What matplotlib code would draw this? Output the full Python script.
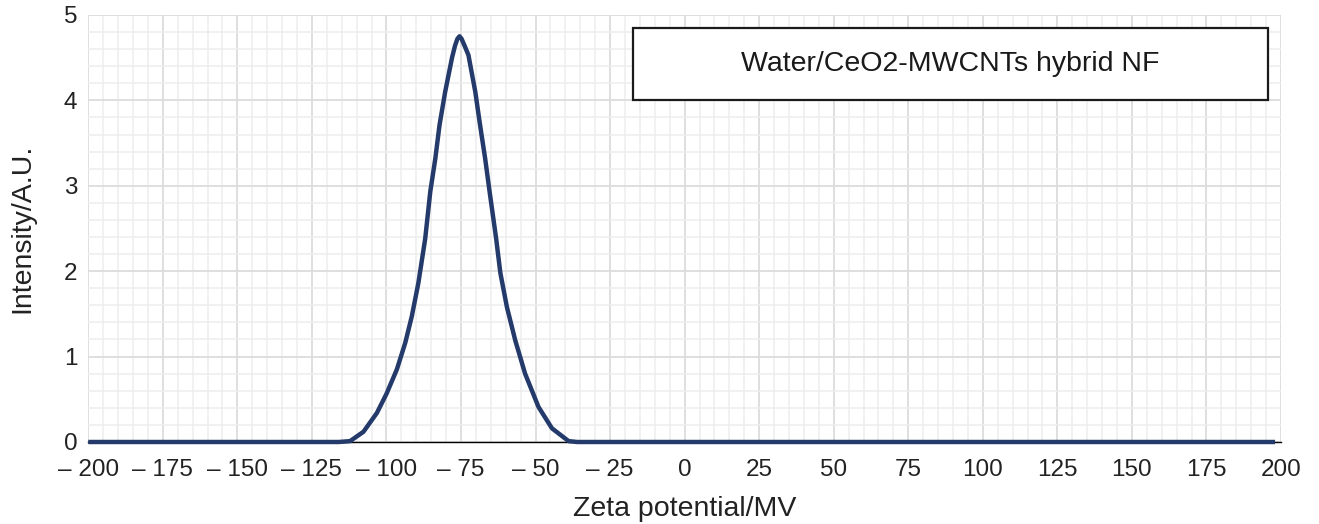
import matplotlib.pyplot as plt
from matplotlib.patches import Rectangle
from matplotlib.ticker import MultipleLocator

plt.rcParams['font.family'] = ['Liberation Sans', 'DejaVu Sans']

# Zeta potential distribution
zeta = [-200, -116, -112.2, -107.7, -103.2, -99.9, -96.5, -93.7, -91.5, -89.3,
        -87.0, -85.3, -83.6, -82.2, -80.3, -78.0, -77.0, -76.2, -75.5, -74.8,
        -73.8, -72.5, -70.2, -68.6, -66.9, -65.4, -63.2, -61.8, -59.6, -56.8,
        -53.5, -49.0, -44.5, -38.9, -36.0, 198]
intensity = [0, 0, 0.01, 0.12, 0.34, 0.57, 0.85, 1.16, 1.47, 1.86,
             2.38, 2.93, 3.32, 3.71, 4.10, 4.50, 4.64, 4.72, 4.75, 4.72,
             4.64, 4.53, 4.10, 3.71, 3.32, 2.93, 2.38, 1.98, 1.58, 1.19,
             0.80, 0.41, 0.16, 0.01, 0, 0]

x_ticks = list(range(-200, 201, 25))
y_ticks = [0, 1, 2, 3, 4, 5]
sample_name = 'Water/CeO2-MWCNTs hybrid NF'

fig = plt.figure(figsize=(13.19, 5.24), dpi=100)
ax = fig.add_axes([0.0669, 0.1565, 0.9043, 0.815])

ax.plot(zeta, intensity, color='#233a6a', lw=3.2, solid_joinstyle='round',
        solid_capstyle='butt', zorder=4, clip_on=False)

ax.set_xlim(-200, 200)
ax.set_ylim(0, 5)
ax.set_xticks(x_ticks)
ax.set_xticklabels([f'\u2013 {abs(v)}' if v < 0 else str(v) for v in x_ticks])
ax.set_yticks(y_ticks)
ax.xaxis.set_minor_locator(MultipleLocator(5))
ax.yaxis.set_minor_locator(MultipleLocator(0.2))

ax.grid(which='major', color='#dcdcdc', lw=1.3, zorder=0)
ax.grid(which='minor', color='#ededed', lw=1.1, zorder=0)
ax.set_axisbelow(True)

for side in ['top', 'right', 'left']:
    ax.spines[side].set_visible(False)
ax.spines['bottom'].set_color('black')
ax.spines['bottom'].set_linewidth(1.0)
ax.spines['bottom'].set_zorder(3)

ax.tick_params(which='both', length=0, labelsize=17.5, colors='#222222')
ax.tick_params(axis='x', pad=12)
ax.tick_params(axis='y', pad=8)

ax.set_xlabel('Zeta potential/MV', fontsize=20.5, color='#222222', labelpad=11)
ax.set_ylabel('Intensity/A.U.', fontsize=20.5, color='#222222', labelpad=20)

# sample label box
box = Rectangle((0.4567, 0.801), 0.5323, 0.1686, transform=ax.transAxes,
                facecolor='white', edgecolor='#1a1a1a', lw=1.6, zorder=5)
ax.add_patch(box)
ax.text(0.7228, 0.885, sample_name, transform=ax.transAxes, ha='center',
        va='center', fontsize=20.5, color='#1a1a1a', zorder=6)

fig.savefig('out.png', dpi=100)
